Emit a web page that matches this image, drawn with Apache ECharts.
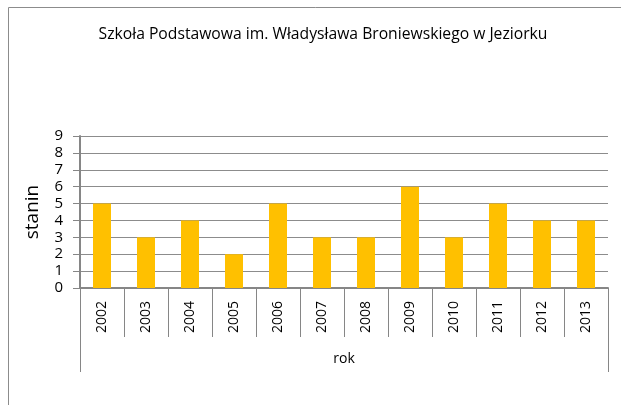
<!DOCTYPE html>
<html>
<head>
<meta charset="utf-8">
<script src="https://cdn.jsdelivr.net/npm/echarts@6/dist/echarts.min.js"></script>
<style>
html, body { margin: 0; padding: 0; background: #fff; }
#chart { width: 621px; height: 405px; }
</style>
</head>
<body>
<div id="chart"></div>
<script>
var years = ['2002', '2003', '2004', '2005', '2006', '2007', '2008', '2009', '2010', '2011', '2012', '2013'];
var stanin = [5, 3, 4, 2, 5, 3, 3, 6, 3, 5, 4, 4];
var groupLabel = ['rok'];

(function(){
	var myChart = echarts.init(document.getElementById('chart'));
	var font = 'Open Sans, Liberation Sans, sans-serif';
	var option = {
		animation: false,
		title: {
			text: 'Szkoła Podstawowa im. Władysława Broniewskiego w Jeziorku',
			left: 318,
			textAlign: 'center',
			top: 22,
			textStyle: { fontFamily: font, fontSize: 15.7, fontWeight: 'normal', color: '#000' }
		},
		graphic: [{
			type: 'rect',
			shape: { x: 8.5, y: 7.5, width: 700, height: 500 },
			style: { fill: 'none', stroke: '#8c8c8c', lineWidth: 1 },
			silent: true
		}],
		grid: { left: 80, right: 13, top: 136, bottom: 117 },
		xAxis: [{
			type: 'category',
			data: years,
			position: 'bottom',
			axisLine: { lineStyle: { color: '#868686', width: 2 } },
			axisTick: { show: true, interval: 0, alignWithLabel: false, length: 49, lineStyle: { color: '#868686', width: 1 } },
			axisLabel: { rotate: 90, interval: 0, margin: 13, fontFamily: font, fontSize: 14, color: '#000' }
		}, {
			type: 'category',
			data: groupLabel,
			position: 'bottom',
			axisLine: { show: false },
			axisTick: { show: true, length: 84, lineStyle: { color: '#868686', width: 1 } },
			axisLabel: { margin: 64, fontFamily: font, fontSize: 14, color: '#000' }
		}],
		yAxis: {
			type: 'value',
			min: 0,
			max: 9,
			interval: 1,
			name: 'stanin',
			nameLocation: 'middle',
			nameGap: 38,
			nameTextStyle: { fontFamily: font, fontSize: 19, color: '#000' },
			axisLine: { show: true, lineStyle: { color: '#868686', width: 2 } },
			axisTick: { show: true, length: 7, lineStyle: { color: '#868686' } },
			axisLabel: { margin: 17, fontFamily: font, fontSize: 15, color: '#000' },
			splitLine: { lineStyle: { color: '#8c8c8c', width: 1 } }
		},
		series: [{
			type: 'bar',
			data: stanin,
			barWidth: 18,
			itemStyle: { color: '#FFC000' }
		}]
	};
	myChart.setOption(option);
})();
</script>
</body>
</html>
